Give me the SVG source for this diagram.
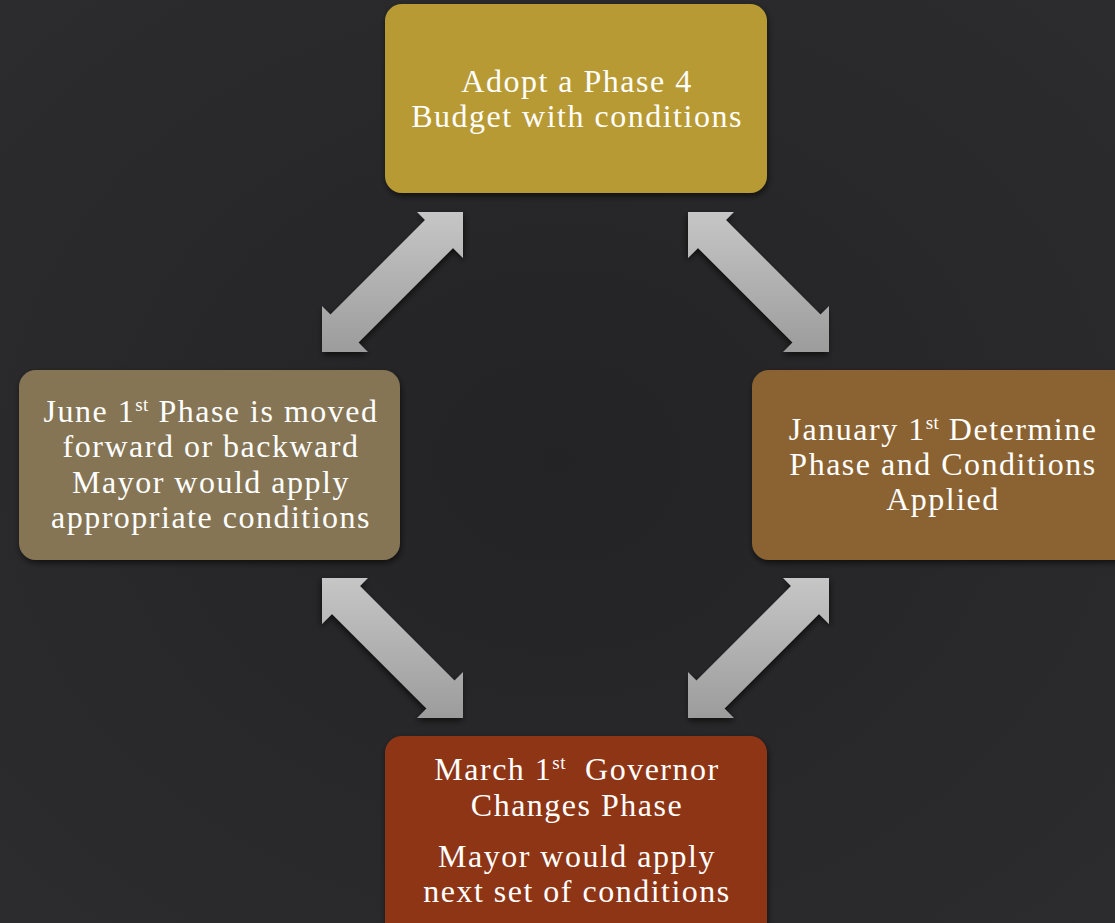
<svg xmlns="http://www.w3.org/2000/svg" width="1115" height="923" viewBox="0 0 1115 923">
<defs>
<radialGradient id="bg" cx="50%" cy="50%" r="70%">
<stop offset="0" stop-color="#232325"/>
<stop offset="1" stop-color="#2c2c2e"/>
</radialGradient>
<linearGradient id="ag" x1="0" y1="0" x2="0" y2="1">
<stop offset="0" stop-color="#c6c6c6"/>
<stop offset="1" stop-color="#9c9c9c"/>
</linearGradient>
<filter id="sh" x="-10%" y="-10%" width="130%" height="130%">
<feGaussianBlur in="SourceAlpha" stdDeviation="3"/>
<feOffset dx="1" dy="3" result="b"/>
<feComponentTransfer><feFuncA type="linear" slope="0.6"/></feComponentTransfer>
<feMerge><feMergeNode/><feMergeNode in="SourceGraphic"/></feMerge>
</filter>
<polygon id="arrow" points="463,212 463,258 453,248 358.5,342.5 368,352 322,352 322,306 330.5,314.5 425,220 417,212"/>
</defs>
<style>
.box{filter:url(#sh);}
.t{font-family:"Liberation Serif","Times New Roman",serif;font-size:32px;letter-spacing:1.5px;fill:#ffffff;text-anchor:middle;}
.sup{font-size:19px;letter-spacing:0.5px;}
.arr{fill:url(#ag);filter:url(#sh);}
</style>
<rect width="1115" height="923" fill="url(#bg)"/>
<g id="connectors">
<use href="#arrow" class="arr"/>
<use href="#arrow" class="arr" transform="translate(1151,0) scale(-1,1)"/>
<use href="#arrow" class="arr" transform="translate(366,366)"/>
<use href="#arrow" class="arr" transform="translate(785,366) scale(-1,1)"/>
</g>
<g id="node-top">
<rect class="box" x="385" y="4" width="382" height="189" rx="17" fill="#b89a36"/>
<text class="t" x="577" y="92">Adopt a Phase 4</text>
<text class="t" x="577" y="127">Budget with conditions</text>
</g>
<g id="node-left">
<rect class="box" x="19" y="370" width="381" height="190" rx="17" fill="#857555"/>
<text class="t" x="211" y="422">June 1<tspan class="sup" dy="-11">st</tspan><tspan dy="11"> Phase is moved</tspan></text>
<text class="t" x="211" y="457">forward or backward</text>
<text class="t" x="211" y="493">Mayor would apply</text>
<text class="t" x="211" y="528">appropriate conditions</text>
</g>
<g id="node-right">
<rect class="box" x="752" y="370" width="383" height="190" rx="17" fill="#8b6430"/>
<text class="t" x="943" y="440">January 1<tspan class="sup" dy="-11">st</tspan><tspan dy="11"> Determine</tspan></text>
<text class="t" x="943" y="475">Phase and Conditions</text>
<text class="t" x="943" y="510">Applied</text>
</g>
<g id="node-bottom">
<rect class="box" x="385" y="736" width="382" height="210" rx="17" fill="#8e3515"/>
<text class="t" x="577" y="780">March 1<tspan class="sup" dy="-11">st</tspan><tspan dy="11" xml:space="preserve">  Governor</tspan></text>
<text class="t" x="577" y="816">Changes Phase</text>
<text class="t" x="577" y="867">Mayor would apply</text>
<text class="t" x="577" y="902">next set of conditions</text>
</g>
</svg>
